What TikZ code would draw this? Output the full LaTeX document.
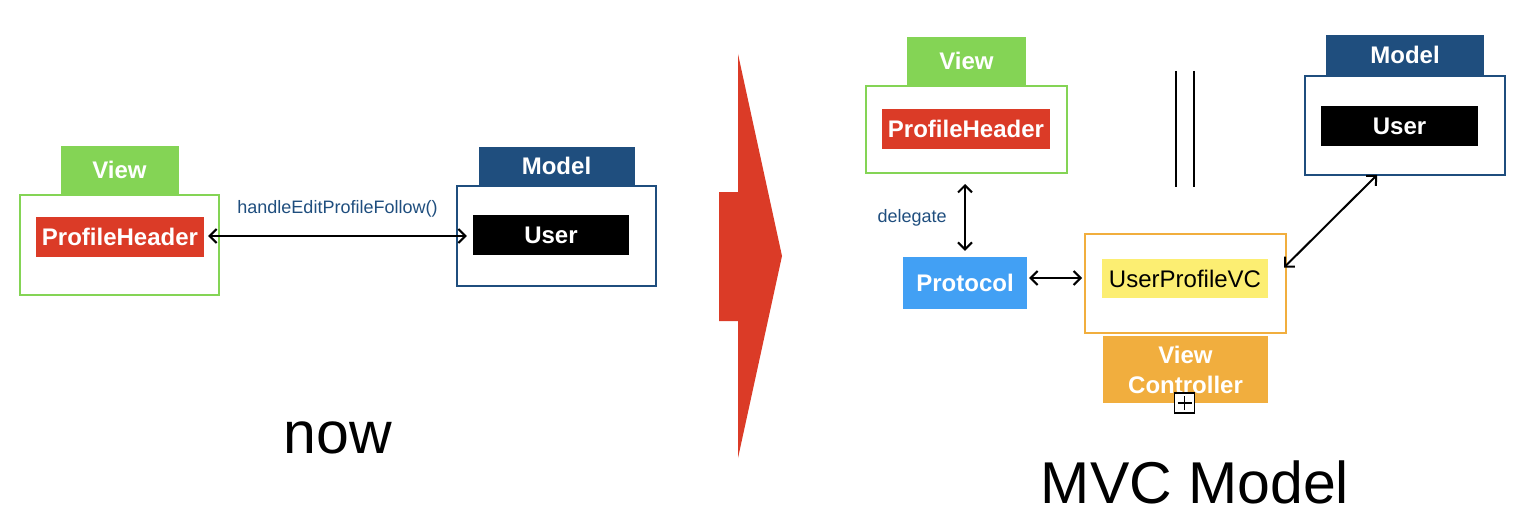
\documentclass[tikz,border=0pt]{standalone}
\usepackage{fontspec}
\setmainfont{Liberation Sans}
\usetikzlibrary{
	arrows.meta,
	positioning
}
\definecolor{viewgreen}{HTML}{84D455}
\definecolor{headred}{HTML}{DB3B27}
\definecolor{modelblue}{HTML}{1F4E7E}
\definecolor{protoblue}{HTML}{42A0F4}
\definecolor{vcorange}{HTML}{F1AE3E}
\definecolor{vcyellow}{HTML}{FCEE72}
\tikzset{
	frame/.style={draw=#1, line width=2pt, inner sep=0pt},
	tab/.style={fill=#1, text=white, inner sep=0pt, font=\bfseries\fontsize{24}{30}\selectfont},
	chip/.style={fill=#1, inner sep=0pt, font=\fontsize{24}{28}\selectfont},
	note/.style={text=modelblue, font=\fontsize{18}{22}\selectfont},
	title/.style={anchor=base, font=\fontsize{59}{70}\selectfont},
	link/.style={line width=2pt, {Straight Barb[length=7pt,width=14pt]}-{Straight Barb[length=7pt,width=14pt]}}
}

\begin{document}
\begin{tikzpicture}[x=1pt, y=-1pt]
	\useasboundingbox (0,0) rectangle (1520,524);

	% now
	\node[frame=viewgreen, minimum width=199, minimum height=100] (lvbox) at (119.5,245) {};
	\node[tab=viewgreen, minimum width=118, minimum height=48, above=0pt of lvbox] (lvtab) {View};
	\node[chip=headred, text=white, font=\bfseries\fontsize{24}{28}\selectfont, minimum width=168, minimum height=40] (lhead) at (120,237) {ProfileHeader};
	\node[frame=modelblue, minimum width=199, minimum height=100] (lmbox) at (556.5,236) {};
	\node[tab=modelblue, minimum width=156, minimum height=38, above=0pt of lmbox] (lmtab) {Model};
	\node[chip=black, text=white, font=\bfseries\fontsize{24}{28}\selectfont, minimum width=156, minimum height=40] (luser) at (551,235) {User};
	\draw[link] ([xshift=4,yshift=-1]lhead.east |- luser.west) -- ([xshift=-6,yshift=-1]luser.west) node[note, midway, above=14pt] (lcall) {handleEditProfileFollow()};
	\node[title] (now) at (338,453) {now};

	\fill[headred] (719,192) -- (738,192) -- (738,54) -- (782,256) -- (738,458) -- (738,321) -- (719,321) -- cycle;

	% MVC
	\node[frame=viewgreen, minimum width=201, minimum height=87] (rvbox) at (966.5,129.5) {};
	\node[tab=viewgreen, minimum width=119, minimum height=48, above=0pt of rvbox] (rvtab) {View};
	\node[chip=headred, text=white, font=\bfseries\fontsize{24}{28}\selectfont, minimum width=168, minimum height=40] (rhead) at (966,129) {ProfileHeader};
	\node[frame=modelblue, minimum width=200, minimum height=99] (rmbox) at (1405,125.5) {};
	\node[tab=modelblue, minimum width=158, minimum height=40, above=0pt of rmbox] (rmtab) {Model};
	\node[chip=black, text=white, font=\bfseries\fontsize{24}{28}\selectfont, minimum width=157, minimum height=40] (ruser) at (1399.5,126) {User};
	\foreach \x in {1176,1194}
		\draw[line width=2pt] (\x,71) -- (\x,187);

	\node[chip=protoblue, text=white, font=\bfseries\fontsize{24}{28}\selectfont, minimum width=124, minimum height=52] (proto) at (965,283) {Protocol};
	\node[frame=vcorange, minimum width=201, minimum height=99] (vcbox) at (1185.5,283.5) {};
	\node[chip=vcyellow, minimum width=166, minimum height=39] (vc) at (1185,278.5) {UserProfileVC};
	\node[tab=vcorange, align=center, minimum width=165, minimum height=67, below=2pt of vcbox] (vctab) {View\\Controller};
	\node[draw, line width=1.5pt, fill=white, minimum width=20, minimum height=20, inner sep=0pt] (plus) at (1184.5,403) {};
	\draw[line width=1.5pt] ([xshift=-7]plus.center) -- ([xshift=7]plus.center);
	\draw[line width=1.5pt] ([yshift=-7]plus.center) -- ([yshift=7]plus.center);

	\draw[link] ([yshift=-10]proto.north |- rvbox.south) -- ([yshift=6]proto.north) node[note, midway, left=14pt] (dlg) {delegate};
	\draw[link] ([xshift=2,yshift=5]proto.east) -- ([xshift=-2,yshift=5]vcbox.west |- proto.east);
	\draw[link] ([xshift=-3,yshift=16]vcbox.east) -- ([xshift=-28,yshift=1]rmbox.south);
	\node[title] (mvc) at (1195,503) {MVC Model};
\end{tikzpicture}
\end{document}
